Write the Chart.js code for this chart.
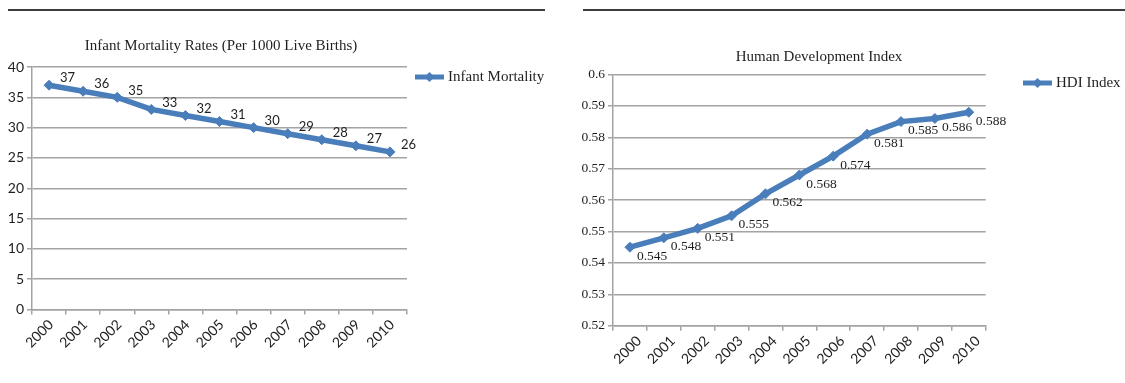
<!DOCTYPE html>
<html>
<head>
<meta charset="utf-8">
<script src="https://cdn.jsdelivr.net/npm/chart.js@4.4.1/dist/chart.umd.min.js"></script>
<style>
  body { margin: 0; background: #fff; width: 1125px; height: 383px; position: relative; overflow: hidden; }
  .rule { position: absolute; top: 9px; height: 2px; background: #3c3c3c; }
  .box { position: absolute; top: 0; height: 383px; }
</style>
</head>
<body>
<div class="rule" style="left:8px;width:537px"></div>
<div class="rule" style="left:583px;width:542px"></div>
<div class="box" style="left:0;width:560px"><canvas id="imr" width="560" height="383"></canvas></div>
<div class="box" style="left:560px;width:565px"><canvas id="hdi" width="565" height="383"></canvas></div>
<script>
// years on the x axis (shared by both charts)
var years = ["2000","2001","2002","2003","2004","2005","2006","2007","2008","2009","2010"];

// infant mortality per 1000 live births
var infantMortality = [37, 36, 35, 33, 32, 31, 30, 29, 28, 27, 26];

// human development index
var hdiIndex = [0.545, 0.548, 0.551, 0.555, 0.562, 0.568, 0.574, 0.581, 0.585, 0.586, 0.588];

var lineBlue = "#4a7ebb";
var gridGrey = "#a3a3a3";
var textDark = "#1f1f1f";

// draws the title, the value next to each point and a one-line legend
var extras = {
    id: 'extras',
    afterDatasetsDraw: function(chart, args, opts) {
        var ctx = chart.ctx;
        var ds = chart.data.datasets[0];
        var meta = chart.getDatasetMeta(0);
        ctx.save();
        ctx.fillStyle = textDark;

        ctx.font = opts.titleFont;
        ctx.textAlign = 'center';
        ctx.textBaseline = 'middle';
        ctx.fillText(opts.title, opts.titleX, opts.titleY);

        ctx.font = opts.labelFont;
        ctx.textAlign = 'left';
        meta.data.forEach(function(pt, i) {
            var v = ds.data[i];
            var txt = opts.decimals ? v.toFixed(opts.decimals) : String(v);
            ctx.fillText(txt, pt.x + opts.dx, pt.y + opts.dy);
        });

        // legend entry: short line with a diamond, then the series name
        var lx = opts.legendX, ly = opts.legendY;
        ctx.strokeStyle = ds.borderColor;
        ctx.lineWidth = 5;
        ctx.beginPath();
        ctx.moveTo(lx, ly);
        ctx.lineTo(lx + 29, ly);
        ctx.stroke();
        ctx.fillStyle = ds.borderColor;
        ctx.beginPath();
        ctx.moveTo(lx + 14.5, ly - 5);
        ctx.lineTo(lx + 19.5, ly);
        ctx.lineTo(lx + 14.5, ly + 5);
        ctx.lineTo(lx + 9.5, ly);
        ctx.closePath();
        ctx.fill();
        ctx.fillStyle = textDark;
        ctx.font = opts.legendFont;
        ctx.textBaseline = 'middle';
        ctx.fillText(ds.label, lx + 33, ly);
        ctx.restore();
    }
};

function lineSet(label, values) {
    return {
        label: label,
        data: values,
        borderColor: lineBlue,
        backgroundColor: lineBlue,
        borderWidth: 5.5,
        tension: 0,
        pointStyle: 'rectRot',
        pointRadius: 5,
        pointBackgroundColor: lineBlue,
        pointBorderColor: lineBlue,
        pointBorderWidth: 1
    };
}

function xAxis(height, shift) {
    return {
        offset: true,
        grid: { offset: true, drawOnChartArea: false, color: gridGrey, lineWidth: 1.5, tickLength: 5 },
        border: { color: gridGrey, width: 1.5 },
        ticks: {
            color: textDark, font: { family: 'Lato', size: 14 },
            minRotation: 45, maxRotation: 45, autoSkip: false, padding: 2, labelOffset: shift
        },
        afterFit: function(s) { s.height = height; }
    };
}

new Chart(document.getElementById('imr').getContext('2d'), {
    type: 'line',
    data: { labels: years, datasets: [lineSet('Infant Mortality', infantMortality)] },
    options: {
        responsive: false,
        animation: false,
        layout: { padding: { top: 67, right: 153, left: 0, bottom: 0 } },
        plugins: {
            legend: { display: false },
            tooltip: { enabled: false },
            extras: {
                title: 'Infant Mortality Rates (Per 1000 Live Births)',
                titleFont: '15px "Liberation Serif"', titleX: 221, titleY: 46,
                labelFont: '13px Lato', dx: 11, dy: -7, decimals: 0,
                legendFont: '15px "Liberation Serif"', legendX: 415, legendY: 77
            }
        },
        scales: {
            x: xAxis(73.5, 2),
            y: {
                min: 0, max: 40,
                ticks: { stepSize: 5, color: textDark, font: { family: 'Lato', size: 14 }, padding: 3 },
                grid: { color: gridGrey, lineWidth: 1.5, tickLength: 5 },
                border: { color: gridGrey, width: 1.5 },
                afterFit: function(s) { s.width = 32; }
            }
        }
    },
    plugins: [extras]
});

new Chart(document.getElementById('hdi').getContext('2d'), {
    type: 'line',
    data: { labels: years, datasets: [lineSet('HDI Index', hdiIndex)] },
    options: {
        responsive: false,
        animation: false,
        layout: { padding: { top: 74.5, right: 139.3, left: 0, bottom: 0 } },
        plugins: {
            legend: { display: false },
            tooltip: { enabled: false },
            extras: {
                title: 'Human Development Index',
                titleFont: '15px "Liberation Serif"', titleX: 259, titleY: 57,
                labelFont: '13.5px "Liberation Serif"', dx: 7, dy: 9, decimals: 3,
                legendFont: '15px "Liberation Serif"', legendX: 463, legendY: 83
            }
        },
        scales: {
            x: xAxis(57.3, 9),
            y: {
                min: 0.52, max: 0.6,
                ticks: {
                    stepSize: 0.01, color: textDark, font: { family: 'Liberation Serif', size: 13.5 }, padding: 3,
                    callback: function(v) { return String(+v.toFixed(2)); }
                },
                grid: { color: gridGrey, lineWidth: 1.5, tickLength: 5 },
                border: { color: gridGrey, width: 1.5 },
                afterFit: function(s) { s.width = 53; }
            }
        }
    },
    plugins: [extras]
});
</script>
</body>
</html>
